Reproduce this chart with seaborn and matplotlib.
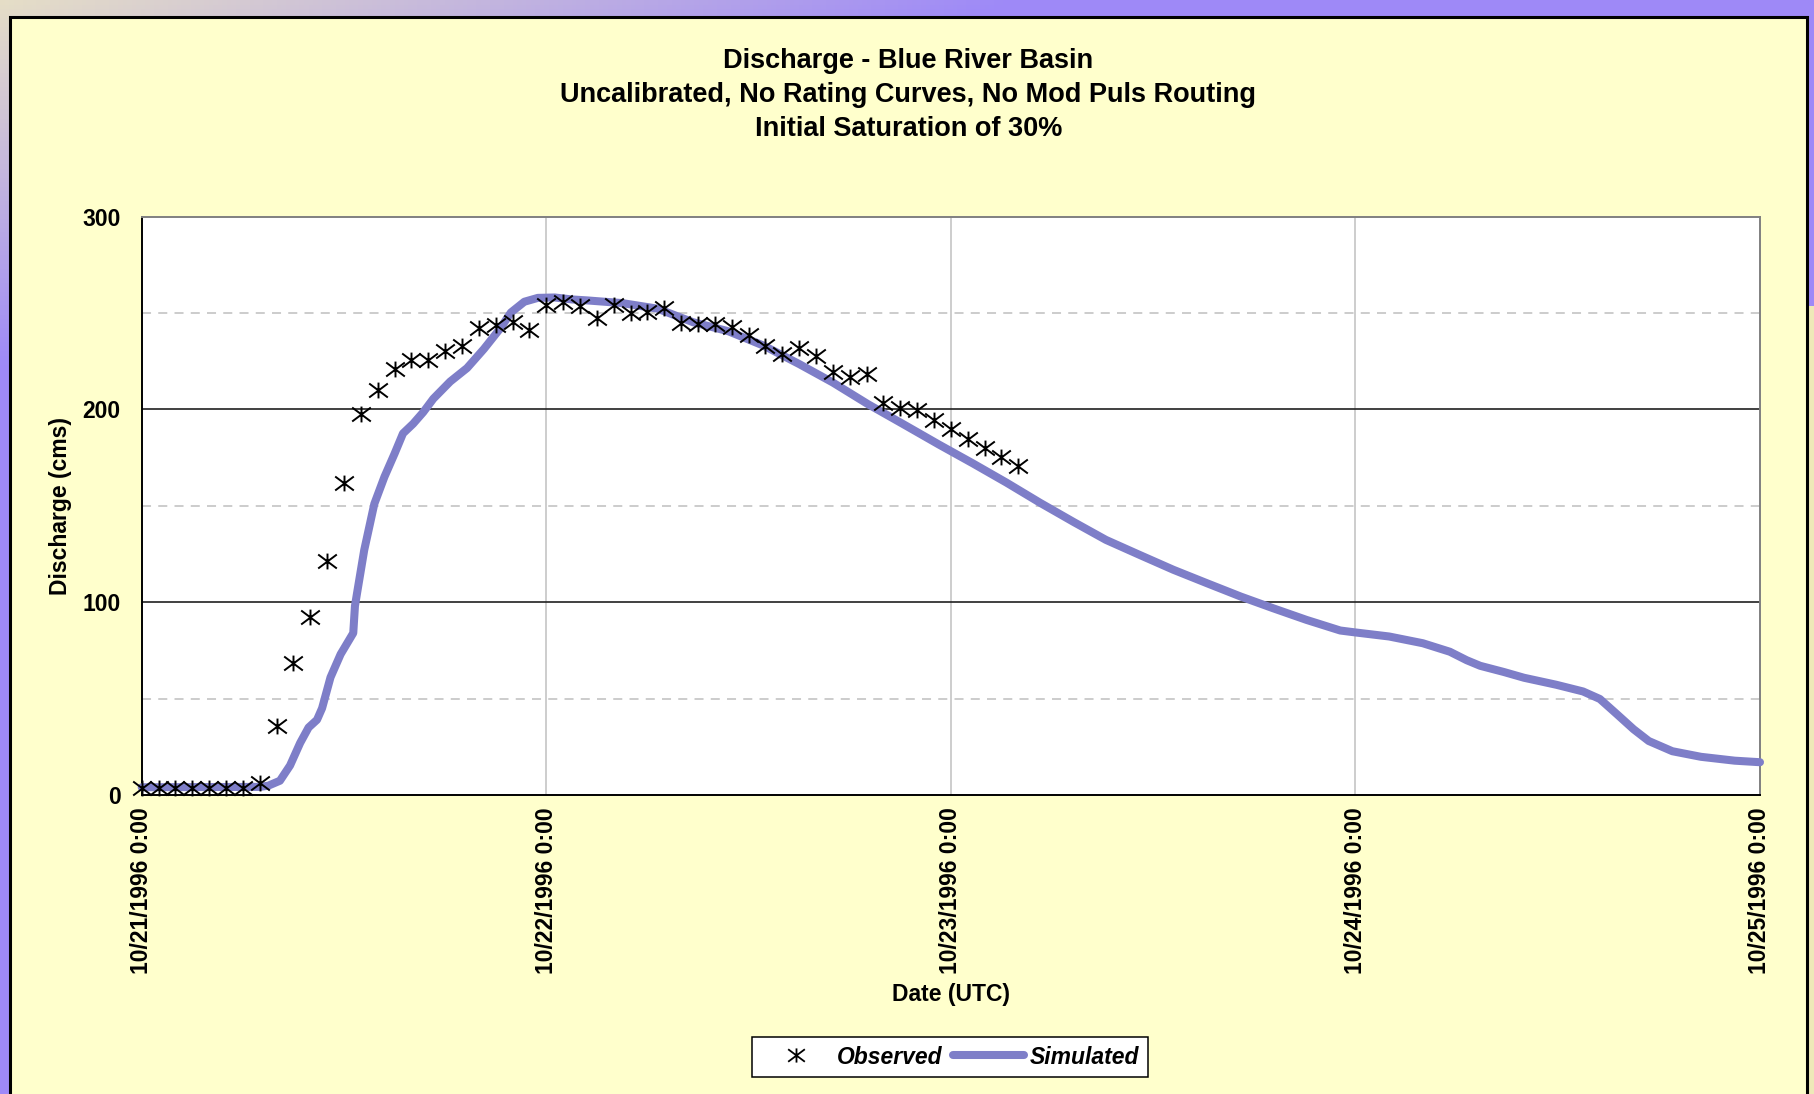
import numpy as np
import pandas as pd
import matplotlib
matplotlib.use("Agg")
import matplotlib.pyplot as plt
import seaborn as sns
from matplotlib.patches import Rectangle
from matplotlib.lines import Line2D
from matplotlib.path import Path

# ---------------- data ----------------
title_lines = ["Discharge - Blue River Basin",
               "Uncalibrated, No Rating Curves, No Mod Puls Routing",
               "Initial Saturation of 30%"]
x_label = "Date (UTC)"
y_label = "Discharge (cms)"
x_tick_hours = [0, 24, 48, 72, 96]
x_tick_labels = ["10/21/1996 0:00", "10/22/1996 0:00", "10/23/1996 0:00",
                 "10/24/1996 0:00", "10/25/1996 0:00"]
y_major = [0, 100, 200, 300]
y_minor = [50, 150, 250]

obs_hours = list(range(53))
obs_values = [3.5, 3.5, 3.5, 3.5, 3.5, 3.5, 3.5, 6.4, 35.6, 68.7,
              92.4, 121.6, 161.7, 197.5, 210.0, 220.8, 225.4, 225.4, 230.3, 232.9,
              242.3, 243.9, 245.3, 240.9, 254.3, 255.6, 253.8, 247.6, 253.9, 249.9,
              250.4, 252.5, 245.0, 244.3, 244.3, 242.6, 238.3, 233.0, 228.7, 231.8,
              227.5, 219.5, 217.0, 218.3, 203.5, 200.9, 199.5, 194.4, 189.6, 184.7,
              180.0, 175.3, 170.4]

sim_hours = [0, 7, 7.5, 8.2, 8.8, 9.4, 9.9, 10.4, 10.7, 11.2, 11.8, 12.55, 12.65,
             12.8, 13.2, 13.8, 14.4, 15.0, 15.5, 16.1, 16.7, 17.3, 18.3, 19.3, 20.3,
             21.3, 21.9, 22.7, 23.5, 24.5, 25.5, 26.4, 28.5, 30.6, 32.7, 34.8, 36.9,
             39.0, 41.0, 43.1, 45.2, 47.3, 49.3, 51.3, 53.3, 55.3, 57.2, 59.2, 61.2,
             63.2, 65.2, 67.1, 69.1, 71.1, 72.0, 74.0, 76.0, 77.6, 78.6, 79.4, 80.8,
             82.0, 83.9, 85.5, 86.5, 87.5, 88.5, 89.4, 90.8, 92.5, 94.5, 96.0]
sim_values = [4.0, 4.2, 4.8, 7.4, 15.3, 27.0, 35.0, 39.0, 45.0, 61.0, 73.0, 84.0, 98.0,
              106.0, 127.0, 151.0, 165.0, 177.0, 187.5, 192.5, 198.5, 205.5, 214.4, 221.4, 231.3,
              242.3, 250.2, 255.8, 257.8, 258.0, 257.0, 256.5, 255.1, 252.2, 245.2, 240.5, 233.0,
              223.5, 213.9, 202.6, 192.2, 181.7, 172.0, 162.0, 151.5, 141.5, 132.3, 124.5, 116.8,
              109.8, 102.9, 96.9, 90.8, 85.3, 84.3, 82.2, 78.7, 74.3, 69.9, 67.0, 63.8,
              60.8, 57.2, 53.7, 49.8, 42.0, 34.1, 28.0, 22.7, 19.8, 17.8, 17.0]

obs_df = pd.DataFrame({"hour": obs_hours, "Discharge": obs_values})
sim_df = pd.DataFrame({"hour": sim_hours, "Discharge": sim_values})

# ---------------- style ----------------
sns.set_style("white")
plt.rcParams["font.family"] = ["Liberation Sans", "DejaVu Sans"]
plt.rcParams["font.weight"] = "bold"
for k in ["text.color", "axes.labelcolor", "xtick.color", "ytick.color"]:
    plt.rcParams[k] = "black"

W, H = 1815, 1094
fig = plt.figure(figsize=(W / 100, H / 100), dpi=100)

# background (slide frame)
bg = fig.add_axes([0, 0, 1, 1], zorder=-10)
bg.set_axis_off()
xs = np.linspace(0, 1, 400)[None, :]
ys = np.linspace(0, 1, 240)[:, None]
purple = np.array([0.62, 0.54, 0.97])
beige = np.array([0.90, 0.87, 0.78])
t = np.clip(1 - (xs * 1.8 + ys * 3.0), 0, 1)[..., None]
img = purple * (1 - t) + beige * t
bg.imshow(img, extent=[0, 1, 0, 1], origin="upper", aspect="auto", transform=bg.transAxes)
bg.set_xlim(0, 1)
bg.set_ylim(0, 1)
bg.add_patch(Rectangle((1807 / W, 0), 8 / W, 0.72, transform=bg.transAxes,
                       facecolor="#EEE9B8", edgecolor="none"))
bg.add_patch(Rectangle((10 / W, -0.02), (1807 - 10) / W, (H - 17) / H + 0.02,
                       transform=bg.transAxes, facecolor="#FFFFCC",
                       edgecolor="black", linewidth=2.2))

# plot axes
left, right, top, bottom = 141.7, 1760, 216.5, 795
ax = fig.add_axes([left / W, 1 - bottom / H, (right - left) / W, (bottom - top) / H])
ax.set_facecolor("white")

line_color = "#7E7EC8"
sns.lineplot(data=sim_df, x="hour", y="Discharge", ax=ax, color=line_color,
             linewidth=5.8, zorder=3, clip_on=False, solid_joinstyle="round")

star = Path([(0, -0.85), (0, 0.85), (-1, -0.75), (1, 0.75), (-1, 0.75), (1, -0.75)],
            [Path.MOVETO, Path.LINETO, Path.MOVETO, Path.LINETO, Path.MOVETO, Path.LINETO])
sns.scatterplot(data=obs_df, x="hour", y="Discharge", ax=ax, marker=star, s=180,
                color="black", edgecolor="black", linewidth=1.4, zorder=4, clip_on=False)

ax.set_xlim(0, 96)
ax.set_ylim(0, 300)
ax.set_xticks(x_tick_hours)
ax.set_xticklabels(x_tick_labels, rotation=90, fontsize=16.5, fontweight="bold", va="top")
ax.set_yticks(y_major)
ax.set_yticklabels([str(v) for v in y_major], fontsize=16.5, fontweight="bold")
ax.set_yticks(y_minor, minor=True)
ax.tick_params(axis="both", which="major", direction="out", length=6, width=1.1, colors="black")
ax.tick_params(axis="x", which="major", pad=3)
ax.tick_params(axis="y", which="major", pad=9)
ax.tick_params(axis="y", which="minor", length=0)

# gridlines
for h in x_tick_hours[1:-1]:
    ax.axvline(h, color="#C0C0C0", lw=1.1, zorder=1)
for v in y_major[1:-1]:
    ax.axhline(v, color="#202020", lw=1.2, zorder=1)
for v in y_minor:
    ax.axhline(v, color="#C8C8C8", lw=1.3, ls=(0, (5, 4)), zorder=1)

for s in ["left", "bottom"]:
    ax.spines[s].set_color("black")
    ax.spines[s].set_linewidth(1.4)
for s in ["top", "right"]:
    ax.spines[s].set_color("#808080")
    ax.spines[s].set_linewidth(1.4)

ax.set_xlabel(x_label, fontsize=16.5, fontweight="bold", va="center")
ax.set_ylabel(y_label, fontsize=16.5, fontweight="bold", va="center")
ax.xaxis.set_label_coords(0.5, (bottom - 995) / (bottom - top))
ax.yaxis.set_label_coords((61 - left) / (right - left), 0.5)

# title
fig.text(908.5 / W, 1 - 95 / H, "\n".join(title_lines), ha="center", va="center",
         fontsize=19.5, fontweight="bold", linespacing=1.38)

# legend
handles = [Line2D([], [], marker=star, color="black", linestyle="None", markersize=12,
                  markeredgewidth=1.3, label="Observed"),
           Line2D([], [], color=line_color, lw=5.8, label="Simulated")]
leg = fig.legend(handles=handles, loc="center", bbox_to_anchor=(950 / W, 1 - 1057 / H),
                 ncol=2, frameon=True, fancybox=False, shadow=False, handlelength=3.1,
                 handletextpad=0.25, columnspacing=0.45, borderpad=0.35,
                 prop={"size": 16.5, "weight": "bold", "style": "italic"})
leg.get_frame().set_edgecolor("black")
leg.get_frame().set_linewidth(1.1)
leg.get_frame().set_facecolor("white")
leg.get_frame().set_alpha(1)

fig.savefig("out.png", dpi=100)
